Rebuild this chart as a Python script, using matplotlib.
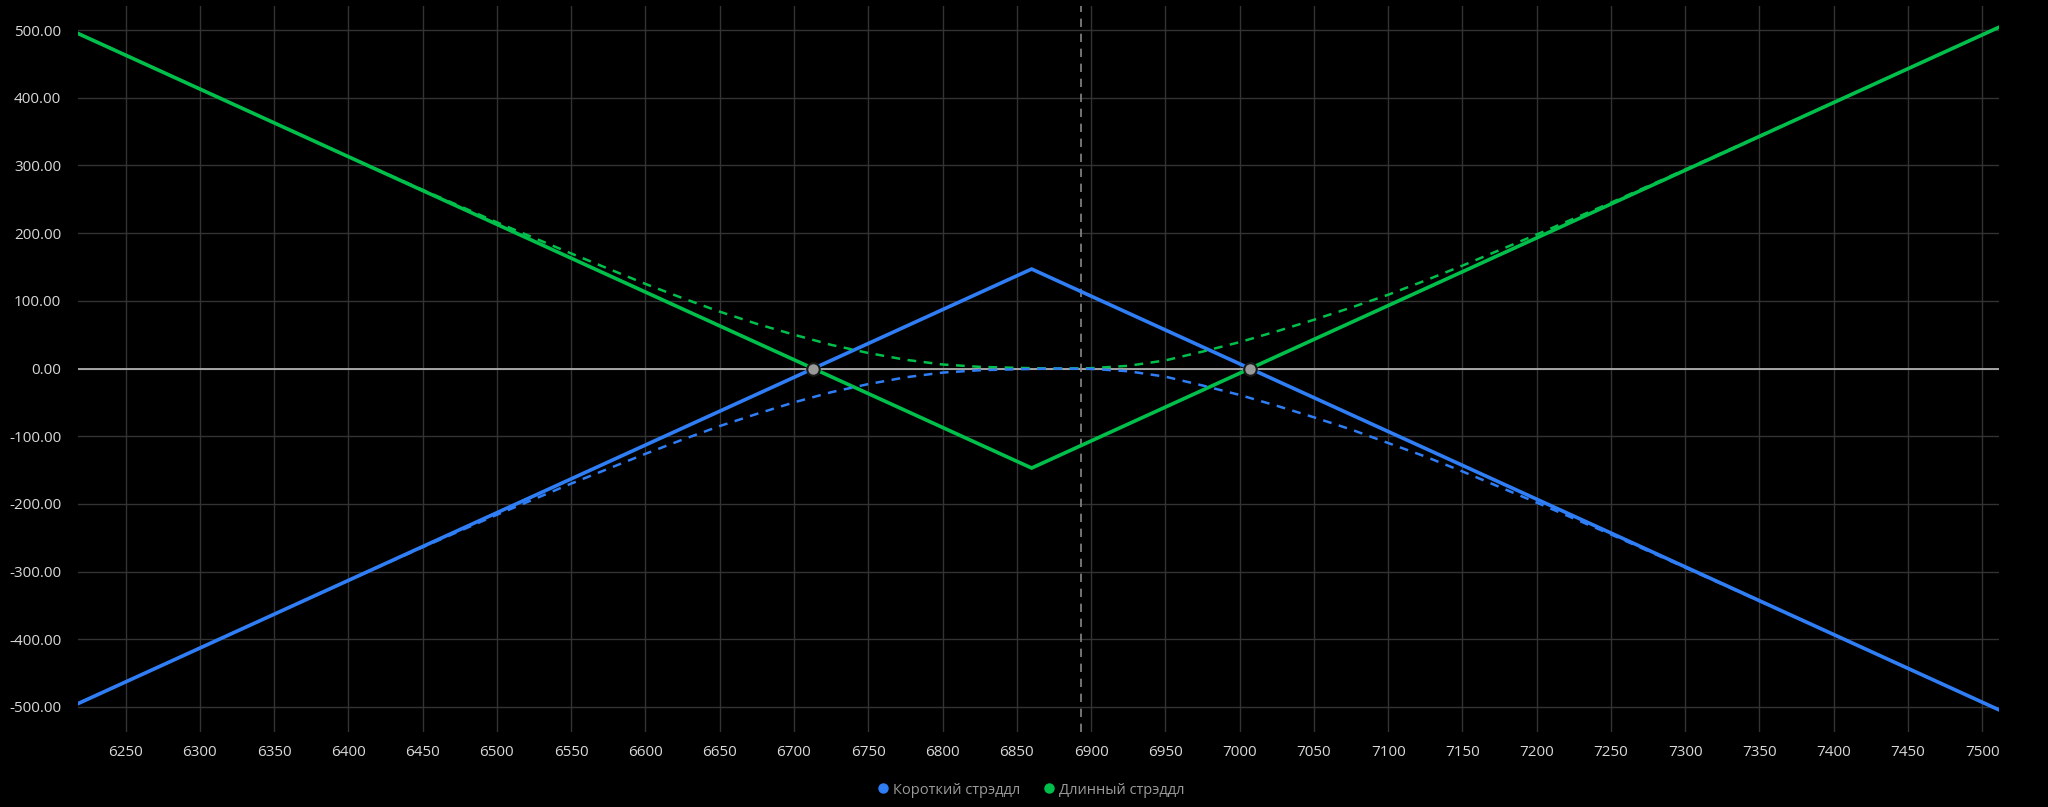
import numpy as np
import matplotlib.pyplot as plt
from matplotlib.lines import Line2D

plt.rcParams['font.family'] = ['Open Sans', 'DejaVu Sans']

# P/L at expiry (vertices of the payoff)
expiry_x = [6218, 6860, 7511]
short_expiry = [-495, 147, -504]
long_expiry = [495, -147, 504]

# current P/L (dashed curves)
now_x = [6218, 6300, 6400, 6450, 6500, 6550, 6600, 6625, 6650, 6675, 6700, 6725,
         6750, 6775, 6800, 6825, 6850, 6875, 6900, 6925, 6950, 6975, 7000, 7025,
         7050, 7075, 7100, 7125, 7150, 7175, 7200, 7250, 7300, 7400, 7511]
long_now = [495, 413, 313, 264, 216, 170, 125, 104, 84, 66, 50, 35,
            23, 13, 6, 2.5, 1, 0, 0.5, 4, 12, 25, 39, 55,
            72, 90, 109, 130, 152, 175, 198, 245, 294, 393, 504]
short_now = [-495, -413, -313, -264, -216, -170, -126, -105, -85, -67, -50, -35,
             -23, -13, -6, -2.5, -1, 0, -0.5, -4, -12, -25, -39, -55,
             -72, -90, -110, -130, -152, -175, -198, -245, -294, -393, -504]

breakevens = [6713, 7007]
current_price = 6893

x_ticks = list(range(6250, 7501, 50))
y_ticks = [-500, -400, -300, -200, -100, 0, 100, 200, 300, 400, 500]

blue = '#2f7ef6'
green = '#00c04b'

fig = plt.figure(figsize=(20.48, 8.07), dpi=100, facecolor='black')
ax = fig.add_axes([0.0381, 0.0929, 0.9378, 0.9000])
ax.set_facecolor('black')

ax.set_xlim(6218, 7511)
ax.set_ylim(-537, 536)
ax.set_xticks(x_ticks)
ax.set_yticks(y_ticks)
ax.set_yticklabels(['%.2f' % v for v in y_ticks])
ax.tick_params(colors='#d8d8d8', labelsize=11, length=0, pad=12)
ax.tick_params(axis='x', pad=9)
for s in ax.spines.values():
    s.set_visible(False)

# grid
for v in y_ticks:
    ax.axhline(v, color='#333333', lw=1.0, zorder=0)
for v in x_ticks:
    ax.axvline(v, color='#333333', lw=1.0, zorder=0)
ax.axhline(0, color='#b0b0b0', lw=1.3, zorder=1)
ax.axvline(current_price, color='#888888', lw=1.2, ls=(0, (5, 4)), zorder=1)

ax.plot(expiry_x, short_expiry, color=blue, lw=2.6, zorder=3, solid_joinstyle='miter')
ax.plot(expiry_x, long_expiry, color=green, lw=2.6, zorder=3, solid_joinstyle='miter')
ax.plot(now_x, long_now, color=green, lw=1.8, ls=(0, (3.5, 3)), zorder=4)
ax.plot(now_x, short_now, color=blue, lw=1.8, ls=(0, (3.5, 3)), zorder=4)

ax.plot(breakevens, [0, 0], 'o', ms=9, mfc='#9a9a9a', mec='#1a1a1a', mew=1.5, zorder=5)

handles = [Line2D([], [], marker='o', ls='none', color=blue, ms=6.5),
           Line2D([], [], marker='o', ls='none', color=green, ms=6.5)]
leg = fig.legend(handles, ['Короткий стрэддл', 'Длинный стрэддл'], loc='center',
                 bbox_to_anchor=(0.503, 0.021), ncol=2, frameon=False, fontsize=10.5,
                 handletextpad=0.15, columnspacing=1.5, handlelength=1.0)
for t in leg.get_texts():
    t.set_color('#9a9a9a')

fig.savefig('out.png', dpi=100, facecolor='black')
